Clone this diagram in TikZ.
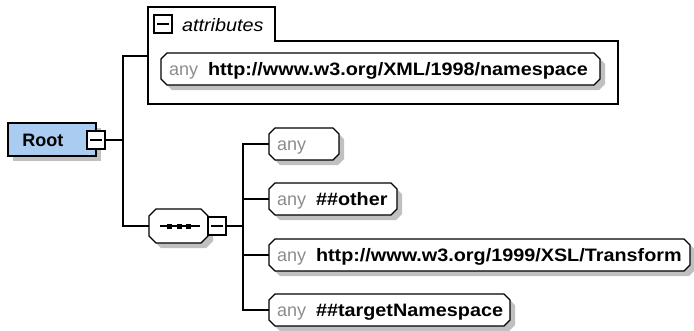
\documentclass[tikz,border=0pt]{standalone}
\usepackage{fontspec}
\setmainfont{Liberation Sans}
\newfontfamily\widefont[FakeStretch=1.1]{Liberation Sans}
\usetikzlibrary{backgrounds}
\definecolor{shadowgrey}{RGB}{192,192,192}
\definecolor{anygrey}{RGB}{140,140,140}
\definecolor{rootblue}{RGB}{170,204,240}
% octagon around a named node: node, chamfer, dx, dy, style
\newcommand\octo[5]{%
  \path[#5] ([shift={(#2+#3,#4)}]#1.north west) -- ([shift={(-#2+#3,#4)}]#1.north east)
   -- ([shift={(#3,#2+#4)}]#1.north east) -- ([shift={(#3,-#2+#4)}]#1.south east)
   -- ([shift={(-#2+#3,#4)}]#1.south east) -- ([shift={(#2+#3,#4)}]#1.south west)
   -- ([shift={(#3,-#2+#4)}]#1.south west) -- ([shift={(#3,#2+#4)}]#1.north west) -- cycle;}
\newcommand\anyrow[2]{\makebox[#1][l]{\hspace{8pt}\makebox[39pt][l]{\color{anygrey}any}{\widefont\bfseries #2}}}
\begin{document}
\begin{tikzpicture}[x=1pt,y=-1pt,line width=1.2pt,
  every node/.style={inner sep=0pt,outer sep=0pt,font=\fontsize{18}{20}\selectfont,text height=15pt,text depth=2pt},
  anynode/.style={minimum height=32pt,anchor=west},
  minusbox/.style={draw,fill=white,minimum width=18pt,minimum height=18pt},
  octline/.style={draw=black,line width=1.2pt,line join=miter,fill=white}]
\useasboundingbox (0,0) rectangle (694,330);
% root
\node[draw,fill=rootblue,minimum width=88pt,minimum height=33pt,anchor=west,
  font=\bfseries\fontsize{18}{20}\selectfont] (root) at (8,139.5) {\makebox[88pt][l]{\hspace{14.5pt}Root}};
\node[minusbox] (rm) at (96,140) {};
\draw ([xshift=3pt]rm.west) -- ([xshift=-3pt]rm.east);
% attributes group
\draw (148,7) -- (275,7) -- (275,41) -- (618,41) -- (618,104) -- (148,104) -- cycle;
\coordinate (attr) at (148,56);
\node[minusbox] (am) at (163,24) {};
\draw ([xshift=3pt]am.west) -- ([xshift=-3pt]am.east);
\node[anchor=west,font=\widefont\itshape\fontsize{18}{20}\selectfont] (atl) at (182,24.5) {attributes};
\node[anynode] (an) at (161,69) {\anyrow{439pt}{http://www.w3.org/XML/1998/namespace}};
% sequence
\node[minimum width=59pt,minimum height=34pt,anchor=west] (seq) at (149,226) {};
\draw ([xshift=11pt]seq.west) -- ([xshift=-8pt]seq.east);
\foreach \d in {18,28,37} \fill ([shift={(\d,-2.5)}]seq.west) rectangle ++(5,5);
\node[minusbox] (sm) at (217,226) {};
\draw ([xshift=3pt]sm.west) -- ([xshift=-3pt]sm.east);
% children
\node[anynode] (c1) at (269,144) {\anyrow{70pt}{}};
\node[anynode] (c2) at (269,199) {\anyrow{128pt}{\#\#other}};
\node[anynode] (c3) at (269,255) {\anyrow{421pt}{http://www.w3.org/1999/XSL/Transform}};
\node[anynode] (c4) at (269,310) {\anyrow{241pt}{\#\#targetNamespace}};
% connectors
\coordinate (jx) at (123,0);
\coordinate (kx) at (243,0);
\draw (rm.east) -- (rm.east -| jx);
\draw (attr) -- (attr -| jx) -- (seq.west -| jx) -- (seq.west);
\draw (sm.east) -- (sm.east -| kx);
\draw (c1.west) -- (c1.west -| kx) -- (c4.west -| kx) -- (c4.west);
\draw (c2.west) -- (c2.west -| kx);
\draw (c3.west) -- (c3.west -| kx);
% shapes behind
\begin{pgfonlayer}{background}
\fill[shadowgrey] ([shift={(5,5)}]root.north west) rectangle ([shift={(5,5)}]root.south east);
\foreach \n in {an,c1,c2,c3,c4} {\octo{\n}{6}{5}{5}{fill=shadowgrey}}
\octo{seq}{7}{5}{5}{fill=shadowgrey}
\foreach \n in {an,c1,c2,c3,c4} {\octo{\n}{6}{0}{0}{octline}}
\octo{seq}{7}{0}{0}{octline}
\end{pgfonlayer}
\end{tikzpicture}
\end{document}
